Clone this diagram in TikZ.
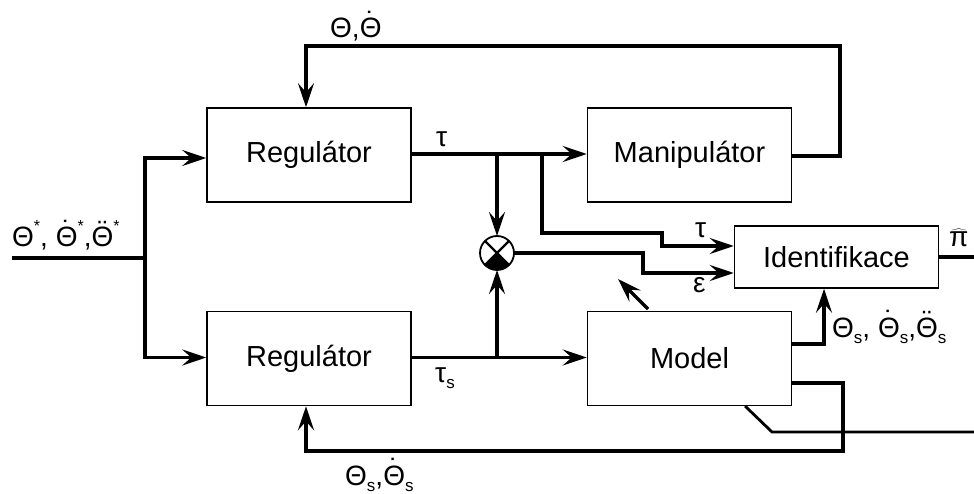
\documentclass[tikz,border=0pt]{standalone}
\usepackage{fontspec}
\setmainfont{Liberation Sans}
\usetikzlibrary{arrows.meta,calc}
\newsavebox\accbox
\newcommand\dotover[1]{\sbox\accbox{#1}\rlap{\makebox[\wd\accbox]{\raisebox{0.22em}{\char"02D9}}}\usebox\accbox}
\newcommand\ddotover[1]{\sbox\accbox{#1}\rlap{\makebox[\wd\accbox]{\raisebox{0.22em}{\char"A8}}}\usebox\accbox}
\newcommand\sub[1]{\raisebox{-0.22em}{\fontsize{17}{19}\selectfont #1}}
\newcommand\supstar{\raisebox{0.55em}{\fontsize{16}{18}\selectfont *}}
\tikzset{
  blockbox/.style={draw, line width=1.5pt, minimum width=204pt, minimum height=94pt, inner sep=0pt, font=\fontsize{29}{34}\selectfont},
  conn/.style={line width=3.2pt},
  arr/.style={conn, -{Stealth[length=24pt,width=16pt,inset=9pt]}},
  lbl/.style={anchor=base west, inner sep=0pt, font=\fontsize{28}{32}\selectfont},
}
\begin{document}
\begin{tikzpicture}[x=1pt,y=-1pt]
\useasboundingbox (0,0) rectangle (974,494);
% blocks
\node[blockbox] (reg1) at (309,155) {Regulátor};
\node[blockbox] (man) at (689.5,155) {Manipulátor};
\node[blockbox] (reg2) at (309,358.5) {Regulátor};
\node[blockbox] (model) at (689.5,358.5) {Model};
\node[blockbox, minimum height=62pt] (ident) at (836.5,257) {Identifikace};
% comparator
\node[circle, minimum size=34pt, inner sep=0pt, outer sep=0pt] (sum) at (497,253) {};
\fill (sum.center) -- (sum.-45) arc[start angle=45, end angle=135, radius=17] -- cycle;
\draw[line width=2.4pt] (sum.45) -- (sum.-135);
\draw[line width=2.4pt] (sum.135) -- (sum.-45);
\draw[line width=1.8pt] (sum.center) circle[radius=17];
% coordinates
\coordinate (inL) at (12,258);
\coordinate (jin) at (145,258);
\coordinate (jt1) at (497,154);
\coordinate (jt2) at (542,154);
\coordinate (jb) at (497,357);
\coordinate (diagA) at (745,406);
\coordinate (diagB) at (772,432);
\coordinate (diagR) at (974,432);
\coordinate (adjA) at (648,309);
\coordinate (adjB) at (618,279);
\coordinate (piR) at (974,257);
% input
\draw[conn] (inL) -- (jin);
\draw[arr] (jin) |- ($(reg1.west)+(0,3)$);
\draw[arr] (jin) |- ($(reg2.west)+(0,-1)$);
% tau
\draw[arr] ($(reg1.east)+(0,-1)$) -- ($(man.west)+(0,-1)$);
\draw[arr] (jt1) -- (sum.north);
\draw[arr] (jt2) -- (542,233) -- (662,233) -- (662,246) -- (ident.west |- 0,246);
% epsilon
\draw[arr] (sum.east) -- (643,253) -- (643,273) -- (ident.west |- 0,273);
% tau_s
\draw[arr] ($(reg2.east)+(0,-1)$) -- ($(model.west)+(0,-1)$);
\draw[arr] (jb) -- (sum.south);
% manipulator feedback
\draw[arr] (man.east |- 0,156) -- (840,156) -- (840,46) -- (306,46) -- (reg1.north -| 306,0);
% model to identifikace
\draw[arr] (model.east |- 0,344) -- (824,344) -- (ident.south -| 824,0);
% model feedback
\draw[arr] (model.east |- 0,383) -- (843,383) -- (843,451) -- (306,451) -- (reg2.south -| 306,0);
% diagonal line
\draw[line width=2.8pt] (diagA) -- (diagB) -- (diagR);
% adjustment arrow
\draw[arr] (adjA) -- (adjB);
% output
\draw[conn] (ident.east) -- (piR);
% labels
\node[lbl] (l1) at (12,247) {Θ\supstar, \dotover{Θ}\supstar,\ddotover{Θ}\supstar};
\node[lbl] (l2) at (330,38) {Θ,\dotover{Θ}};
\node[lbl] (l3) at (436,147) {τ};
\node[lbl] (l4) at (695,238) {τ};
\node[lbl] (l5) at (693,293) {ε};
\node[lbl] (l6) at (435,382) {τ\sub{s}};
\node[lbl] (l7) at (832,337) {Θ\sub{s}, \dotover{Θ}\sub{s},\ddotover{Θ}\sub{s}};
\node[lbl] (l8) at (345,485) {Θ\sub{s},\dotover{Θ}\sub{s}};
\node[lbl] (l9) at (949,247) {$\widehat{\hbox{π}}$};
\end{tikzpicture}
\end{document}
